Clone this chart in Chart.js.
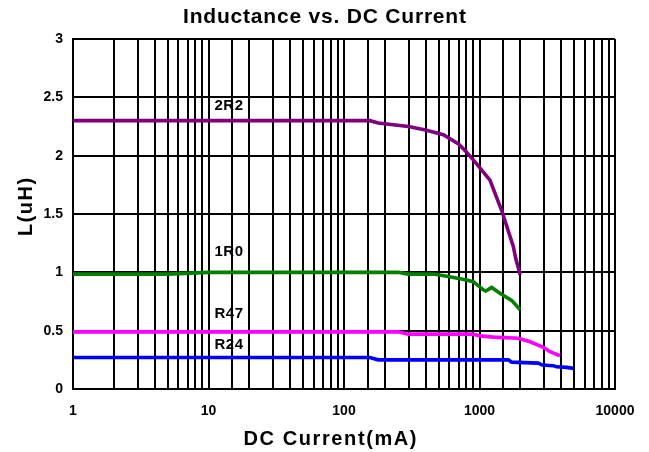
<!DOCTYPE html>
<html>
<head>
<meta charset="utf-8">
<script src="https://cdn.jsdelivr.net/npm/chart.js@4/dist/chart.umd.min.js"></script>
<style>
html,body{margin:0;padding:0;background:#fff;}
#wrap{width:649px;height:452px;position:relative;}
</style>
</head>
<body>
<div id="wrap"><canvas id="c" width="649" height="452"></canvas></div>
<script>
// ---- data ----
const chartTitle = 'Inductance vs. DC Current';
const xAxisTitle = 'DC Current(mA)';
const yAxisTitle = 'L(uH)';

const xTickLabels = [1, 10, 100, 1000, 10000];
const yTicks = [0, 0.5, 1, 1.5, 2, 2.5, 3];

const seriesNames = ['2R2', '1R0', 'R47', 'R24'];

const current2R2 = [1, 155, 179, 298, 400, 541, 700, 804, 953, 1194, 1458, 1778, 1850, 1995];
const L2R2       = [2.30, 2.30, 2.28, 2.25, 2.22, 2.18, 2.10, 2.03, 1.93, 1.79, 1.53, 1.22, 1.12, 0.98];

const current1R0 = [1, 5, 10, 251, 298, 457, 603, 800, 900, 1067, 1110, 1150, 1230, 1414, 1726, 1995];
const L1R0       = [0.985, 0.985, 1.0, 1.0, 0.985, 0.985, 0.962, 0.935, 0.92, 0.85, 0.84, 0.85, 0.87, 0.82, 0.76, 0.68];

const currentR47 = [1, 251, 298, 900, 1010, 1265, 1932, 2360, 2960, 3313, 3930];
const LR47       = [0.49, 0.49, 0.47, 0.47, 0.455, 0.445, 0.435, 0.405, 0.357, 0.32, 0.285];

const currentR24 = [1, 155, 179, 1633, 1726, 2717, 2900, 3509, 3700, 4398, 4920];
const LR24       = [0.27, 0.27, 0.25, 0.25, 0.23, 0.222, 0.205, 0.2, 0.19, 0.185, 0.177];

// series label anchors (data units)
const labelCurrent = [14.1, 14.1, 14.1, 14.1];
const labelL       = [2.43, 1.172, 0.642, 0.378];

const colors = ['#800080', '#008000', '#FF00FF', '#0000FF'];

function pts(xs, ys){ return xs.map((x,i)=>({x:x, y:ys[i]})); }

const FONT = "'Liberation Sans', Arial, sans-serif";

function spacedText(ctx, text, x, y, spacing){
  if ('letterSpacing' in ctx) {
    ctx.letterSpacing = spacing + 'px';
    const w = ctx.measureText(text).width - spacing;
    ctx.textAlign = 'left';
    ctx.fillText(text, x - w/2, y);
    ctx.letterSpacing = '0px';
  } else {
    ctx.textAlign = 'center';
    ctx.fillText(text, x, y);
  }
}

const textPlugin = {
  id: 'texts',
  afterDraw(chart){
    const ctx = chart.ctx, xs = chart.scales.x, ys = chart.scales.y;
    ctx.save();
    ctx.fillStyle = '#000';
    ctx.textBaseline = 'middle';
    // series labels
    ctx.font = 'bold 15px ' + FONT;
    seriesNames.forEach((n,i)=>{
      spacedText(ctx, n, xs.getPixelForValue(labelCurrent[i]), ys.getPixelForValue(labelL[i]), 0.5);
    });
    // chart title
    ctx.font = 'bold 21px ' + FONT;
    spacedText(ctx, chartTitle, chart.width/2, 17, 0.8);
    // x axis title
    ctx.font = 'bold 20px ' + FONT;
    spacedText(ctx, xAxisTitle, 330, 439, 1.6);
    // y axis title
    ctx.translate(26, 207);
    ctx.rotate(-Math.PI/2);
    spacedText(ctx, yAxisTitle, 0, 0, 1.5);
    ctx.restore();
  }
};

new Chart(document.getElementById('c'), {
  type: 'line',
  data: {
    datasets: [
      {label: seriesNames[0], data: pts(current2R2, L2R2), borderColor: colors[0]},
      {label: seriesNames[1], data: pts(current1R0, L1R0), borderColor: colors[1]},
      {label: seriesNames[2], data: pts(currentR47, LR47), borderColor: colors[2]},
      {label: seriesNames[3], data: pts(currentR24, LR24), borderColor: colors[3]}
    ].map(d => Object.assign(d, {borderWidth: 3.6, pointRadius: 0, tension: 0, fill: false}))
  },
  options: {
    responsive: false,
    animation: false,
    layout: {padding: {left: 0, right: 34, top: 39, bottom: 0}},
    plugins: {
      legend: {display: false},
      tooltip: {enabled: false},
      title: {display: false}
    },
    scales: {
      x: {
        type: 'logarithmic',
        min: 1, max: 10000,
        afterFit(s){ s.height = 63; },
        border: {color: '#000', width: 2},
        grid: {color: '#000', lineWidth: 2, drawTicks: false},
        ticks: {
          autoSkip: false, maxRotation: 0, padding: 14, color: '#000',
          font: {family: FONT, size: 14, weight: 'bold'},
          callback(v){ return xTickLabels.includes(v) ? String(v) : ''; }
        }
      },
      y: {
        type: 'linear',
        min: 0, max: 3,
        afterFit(s){ s.width = 73; },
        afterBuildTicks(s){ s.ticks = yTicks.map(v=>({value: v})); },
        border: {color: '#000', width: 2},
        grid: {color: '#000', lineWidth: 2, drawTicks: false},
        ticks: {
          padding: 10, color: '#000',
          font: {family: FONT, size: 14, weight: 'bold'},
          callback(v){ return String(v); }
        }
      }
    }
  },
  plugins: [textPlugin]
});
</script>
</body>
</html>
